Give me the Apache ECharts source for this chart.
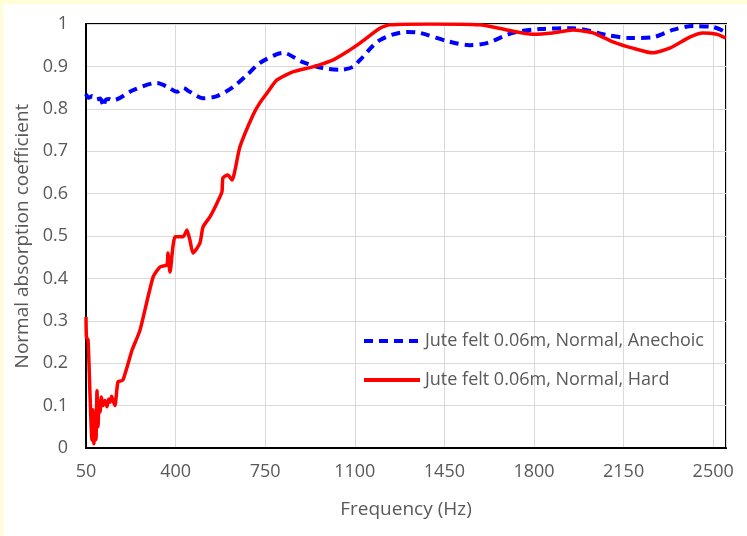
<!DOCTYPE html>
<html>
<head>
<meta charset="utf-8">
<script src="https://cdn.jsdelivr.net/npm/echarts@6/dist/echarts.min.js"></script>
<style>
html,body{margin:0;padding:0;background:#fff;}
#wrap{position:absolute;left:0;top:0;width:747px;height:536px;background:#fff;}
#ybar{position:absolute;left:0;top:0;width:3px;height:536px;background:#fffdd5;}
#xbar{position:absolute;left:0;top:0;width:747px;height:4px;background:#fffdd5;}
#chart{position:absolute;left:0;top:0;width:747px;height:536px;}
</style>
</head>
<body>
<div id="wrap"><div id="chart"></div><div id="ybar"></div><div id="xbar"></div></div>
<script>
// Frequency (Hz) and absorption values
const anechoicFreq = [50, 60, 75, 90, 105, 115, 120, 125, 140, 155, 234, 327, 370, 405, 429, 456, 507, 562, 624, 679, 729, 796, 819, 897, 975, 1042, 1093, 1120, 1198, 1303, 1354, 1471, 1549, 1616, 1717, 1823, 1952, 2084, 2174, 2264, 2342, 2420, 2498, 2549];
const anechoicVal  = [0.835, 0.826, 0.830, 0.822, 0.824, 0.812, 0.805, 0.820, 0.823, 0.820, 0.844, 0.861, 0.851, 0.840, 0.849, 0.840, 0.825, 0.830, 0.851, 0.880, 0.908, 0.929, 0.932, 0.910, 0.896, 0.892, 0.899, 0.915, 0.962, 0.981, 0.979, 0.958, 0.950, 0.955, 0.979, 0.988, 0.990, 0.974, 0.967, 0.969, 0.986, 0.995, 0.993, 0.981];

const hardFreq = [50, 52, 58, 66, 73, 77, 81, 85, 89, 93, 97, 101, 105, 110, 116, 124, 132, 138, 144, 150, 155, 163, 175, 194, 230, 261, 312, 339, 366, 370, 378, 398, 429, 444, 456, 468, 495, 507, 534, 562, 581, 585, 604, 620, 651, 702, 729, 757, 796, 858, 936, 1014, 1081, 1120, 1198, 1237, 1393, 1588, 1694, 1795, 1873, 1952, 2030, 2108, 2186, 2264, 2330, 2408, 2459, 2514, 2549];
const hardVal  = [0.309, 0.260, 0.255, 0.120, 0.019, 0.090, 0.010, 0.060, 0.020, 0.135, 0.050, 0.110, 0.085, 0.120, 0.100, 0.112, 0.097, 0.115, 0.108, 0.122, 0.113, 0.100, 0.156, 0.160, 0.231, 0.278, 0.403, 0.427, 0.432, 0.460, 0.415, 0.498, 0.498, 0.514, 0.490, 0.460, 0.483, 0.521, 0.545, 0.578, 0.604, 0.637, 0.644, 0.632, 0.710, 0.785, 0.814, 0.837, 0.868, 0.887, 0.899, 0.915, 0.939, 0.955, 0.990, 0.998, 1.000, 0.998, 0.986, 0.976, 0.979, 0.986, 0.979, 0.958, 0.943, 0.932, 0.943, 0.969, 0.979, 0.976, 0.967];

const seriesNames = ['Jute felt 0.06m, Normal, Anechoic', 'Jute felt 0.06m, Normal, Hard'];
const xTickMin = 50, xTickMax = 2550, xTickStep = 350;
const yTickMin = 0, yTickMax = 1, yTickStep = 0.1;

const pairs = (xs, ys) => xs.map((x, i) => [x, ys[i]]);
const txt = '#595959';
const fam = '"Open Sans", "Noto Sans", sans-serif';

const chart = echarts.init(document.getElementById('chart'), null, {renderer: 'canvas'});
chart.setOption({
  animation: false,
  backgroundColor: 'transparent',
  grid: {left: 86, right: 21, top: 24, bottom: 88, show: true, borderColor: '#000', borderWidth: 2, backgroundColor: 'transparent'},
  legend: {
    orient: 'vertical', left: 357, top: 327, itemWidth: 56, itemHeight: 14, itemGap: 21,
    itemStyle: {opacity: 0},
    lineStyle: {width: 4},
    textStyle: {color: txt, fontSize: 18, fontFamily: fam, padding: [0, 0, 0, 0]},
    data: seriesNames
  },
  xAxis: {
    type: 'value', min: xTickMin, max: xTickMax, interval: xTickStep,
    name: 'Frequency (Hz)', nameLocation: 'middle', nameGap: 52,
    nameTextStyle: {color: txt, fontSize: 19, fontFamily: fam},
    axisLine: {show: true, lineStyle: {color: '#000', width: 2}},
    axisTick: {show: false},
    axisLabel: {color: txt, fontSize: 18, fontFamily: fam, margin: 15, showMaxLabel: false,
      formatter: v => String(v)},
    splitLine: {show: true, lineStyle: {color: '#d9d9d9', width: 1}}
  },
  yAxis: {
    type: 'value', min: yTickMin, max: yTickMax, interval: yTickStep,
    name: 'Normal absorption coefficient', nameLocation: 'middle', nameGap: 54,
    nameTextStyle: {color: txt, fontSize: 19, fontFamily: fam},
    axisLine: {show: true, lineStyle: {color: '#000', width: 2}},
    axisTick: {show: false},
    axisLabel: {color: txt, fontSize: 18, fontFamily: fam, margin: 18,
      formatter: v => String(Math.round(v * 10) / 10)},
    splitLine: {show: true, lineStyle: {color: '#d9d9d9', width: 1}}
  },
  series: [
    {
      name: seriesNames[0], type: 'line', data: pairs(anechoicFreq, anechoicVal),
      smooth: 0.3, symbol: 'none', z: 3,
      lineStyle: {color: '#0000ff', width: 4, type: [9, 6]},
      itemStyle: {color: '#0000ff'}
    },
    {
      name: seriesNames[1], type: 'line', data: pairs(hardFreq, hardVal),
      smooth: 0.2, symbol: 'none', z: 4,
      lineStyle: {color: '#ff0000', width: 3.5},
      itemStyle: {color: '#ff0000'}
    }
  ]
});
</script>
</body>
</html>
